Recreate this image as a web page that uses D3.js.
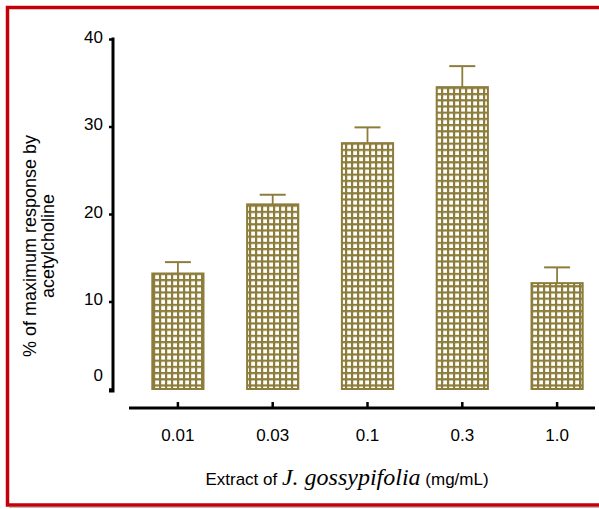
<!DOCTYPE html>
<html><head><meta charset="utf-8">
<script src="https://cdn.jsdelivr.net/npm/d3@7"></script>
<style>body{margin:0;background:#fff}svg{display:block}</style>
</head><body>
<script>
const categories = ["0.01","0.03","0.1","0.3","1.0"];
const means = [13.2, 21.1, 28.1, 34.5, 12.1];
const errors = [1.3, 1.1, 1.8, 2.4, 1.8];
const yTicks = [0,10,20,30,40];

const W=599,H=509;
const svg=d3.select("body").append("svg").attr("width",W).attr("height",H);
const olive="#8d7d3b";
const sans="Liberation Sans, Arial, sans-serif";

// pattern
const defs=svg.append("defs");
const pat=defs.append("pattern").attr("id","grid").attr("patternUnits","userSpaceOnUse")
  .attr("width",6).attr("height",6.2).attr("x",153).attr("y",0);
pat.append("rect").attr("width",6).attr("height",6.2).attr("fill","#fff");
pat.append("rect").attr("x",0).attr("y",0).attr("width",2.2).attr("height",6.2).attr("fill",olive);
pat.append("rect").attr("x",0).attr("y",0).attr("width",6).attr("height",2.2).attr("fill",olive);

// frame
svg.append("path").attr("d","M602,7.5 H7.5 V505 H602").attr("fill","none").attr("stroke","#c4000b").attr("stroke-width",3.5);
svg.append("line").attr("x1",9).attr("x2",602).attr("y1",507.5).attr("y2",507.5).attr("stroke","#bbb").attr("stroke-width",1);

const y=d3.scaleLinear().domain([0,40]).range([389,39]);
const x=d3.scaleBand().domain(categories).range([130.5,604.5]).paddingInner(0.46).paddingOuter(0.23);

// y axis
const ya=svg.append("g").attr("transform","translate(113,0)")
  .call(d3.axisLeft(y).tickValues(yTicks).tickSize(4).tickPadding(6));
ya.select(".domain").attr("d","M-4,391 H0 V37.5").attr("stroke","#000").attr("stroke-width",3).attr("fill","none");
ya.selectAll(".tick line").attr("stroke","#000").attr("stroke-width",2.5);
ya.selectAll(".tick text").attr("font-family",sans).attr("font-size",17).attr("fill","#000")
  .attr("dy",d=>d===0?"-0.5em":"0.2em");

// x axis
const xa=svg.append("g").attr("transform","translate(0,408)")
  .call(d3.axisTop(x).tickSize(6).tickPadding(0));
xa.select(".domain").attr("d","M129,0 H595").attr("stroke","#000").attr("stroke-width",3);
xa.selectAll(".tick line").attr("stroke","#000").attr("stroke-width",2.5);
xa.selectAll(".tick text").attr("font-family",sans).attr("font-size",17).attr("fill","#000")
  .attr("y",27).attr("dy","0.35em");

// bars
const g=svg.append("g");
categories.forEach((c,i)=>{
  const bx=x(c), bw=x.bandwidth(), cx=bx+bw/2;
  g.append("line").attr("x1",cx).attr("x2",cx).attr("y1",y(means[i])).attr("y2",y(means[i]+errors[i]))
    .attr("stroke",olive).attr("stroke-width",1.8);
  g.append("line").attr("x1",cx-13).attr("x2",cx+13).attr("y1",y(means[i]+errors[i])).attr("y2",y(means[i]+errors[i]))
    .attr("stroke",olive).attr("stroke-width",2);
  g.append("rect").attr("x",bx).attr("y",y(means[i])).attr("width",bw).attr("height",y(0)-y(means[i]))
    .attr("fill","url(#grid)").attr("stroke",olive).attr("stroke-width",2);
});

// y label
const yl=svg.append("text").attr("transform","rotate(-90)")
  .attr("font-family",sans).attr("font-size",18).attr("fill","#000").attr("text-anchor","middle");
yl.append("tspan").attr("x",-246).attr("y",36).text("% of maximum response by");
yl.append("tspan").attr("x",-246).attr("y",54).text("acetylcholine");

// x label
const xl=svg.append("text").attr("x",347).attr("y",485).attr("text-anchor","middle").attr("fill","#000")
  .attr("font-family",sans).attr("font-size",17);
xl.append("tspan").text("Extract of ");
xl.append("tspan").attr("font-family","Liberation Serif, Times New Roman, serif").attr("font-style","italic").attr("font-size",24).text("J. gossypifolia");
xl.append("tspan").attr("font-size",17).text(" (mg/mL)");
</script>
</body></html>
